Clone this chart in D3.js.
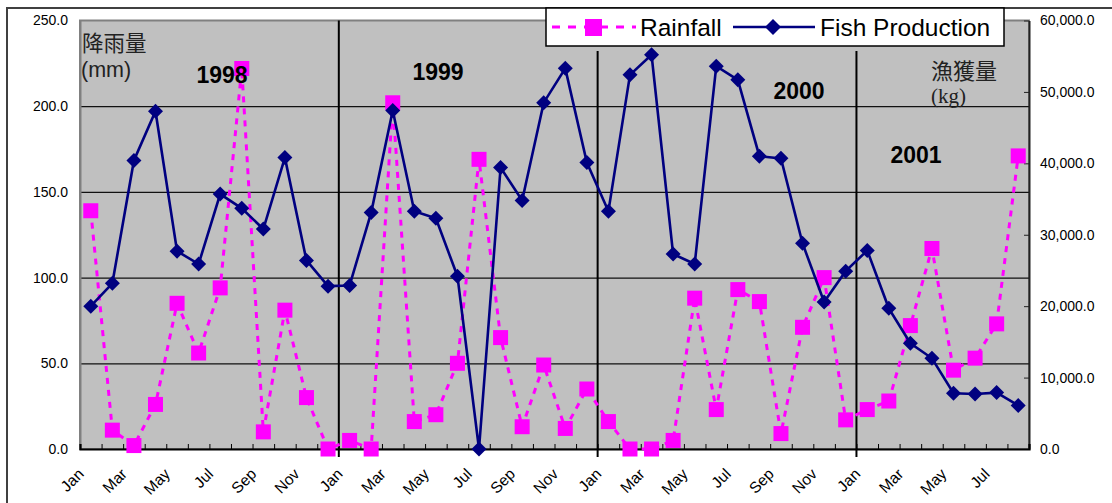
<!DOCTYPE html>
<html>
<head>
<meta charset="utf-8">
<script src="https://cdn.jsdelivr.net/npm/d3@7"></script>
<style>
  html, body { margin: 0; padding: 0; background: #fff; }
  svg { display: block; font-family: "Liberation Sans", Arial, sans-serif; }
</style>
</head>
<body>
<svg id="chart" width="1112" height="503"></svg>
<script>
// ---- data ----
const months = [
  "Jan","Feb","Mar","Apr","May","Jun","Jul","Aug","Sep","Oct","Nov","Dec",
  "Jan","Feb","Mar","Apr","May","Jun","Jul","Aug","Sep","Oct","Nov","Dec",
  "Jan","Feb","Mar","Apr","May","Jun","Jul","Aug","Sep","Oct","Nov","Dec",
  "Jan","Feb","Mar","Apr","May","Jun","Jul","Aug"
];
const rainfall = [
  139, 11, 2, 26, 85, 56, 94, 222, 10, 81, 30, 0,
  5, 0, 202, 16, 20, 50, 169, 65, 13, 49, 12, 35,
  16, 0, 0, 5, 88, 23, 93, 86, 9, 71, 100, 17,
  23, 28, 72, 117, 46, 53, 73, 171
];
const fishProduction = [
  20000, 23200, 40400, 47300, 27700, 25900, 35700, 33700, 30800, 40800, 26400, 22800,
  22900, 33100, 47400, 33300, 32300, 24200, 0, 39400, 34800, 48500, 53300, 40100,
  33300, 52400, 55200, 27300, 25900, 53600, 51700, 41000, 40700, 28800, 20600, 24900,
  27800, 19700, 14800, 12700, 7800, 7700, 7900, 6100
];
const leftTicks = [0, 50, 100, 150, 200, 250];
const rightTicks = [0, 10000, 20000, 30000, 40000, 50000, 60000];
const years = ["1998", "1999", "2000", "2001"];
const yearStartIndex = [0, 12, 24, 36];
const seriesNames = ["Rainfall", "Fish Production"];

// ---- layout ----
const svg = d3.select("#chart");
const L = 80, R = 1029, T = 20.5, B = 449;
const idx = d3.range(months.length);
const x = d3.scaleBand().domain(idx).range([L, R]).padding(0);
const cx = i => x(i) + x.bandwidth() / 2;
const yL = d3.scaleLinear().domain([0, 250]).range([B, T]);
const yR = d3.scaleLinear().domain([0, 60000]).range([B, T]);
const xb = d3.scaleLinear().domain([0, months.length]).range([L, R]);

const MAG = "#ff00ff", NAVY = "#000080";

// outer chart border
svg.append("rect").attr("x", 7).attr("y", 8).attr("width", 1200).attr("height", 600)
  .attr("fill", "#fff").attr("stroke", "#404040").attr("stroke-width", 2);

// plot area
svg.append("rect").attr("x", L).attr("y", T).attr("width", R - L).attr("height", B - T)
  .attr("fill", "#c0c0c0").attr("stroke", "#808080").attr("stroke-width", 2);

// gridlines
svg.append("g").attr("transform", `translate(${L},0)`)
  .call(d3.axisLeft(yL).tickValues([50, 100, 150, 200]).tickSize(-(R - L)).tickFormat(""))
  .call(g => g.select(".domain").remove())
  .call(g => g.selectAll("line").attr("stroke", "#111").attr("stroke-width", 1.2));

// year separators
yearStartIndex.slice(1).forEach((s, k) => {
  svg.append("line").attr("x1", xb(s)).attr("x2", xb(s))
    .attr("y1", k === 0 ? T : 51).attr("y2", B + 8)
    .attr("stroke", "#000").attr("stroke-width", 2);
});

// left axis
svg.append("g").attr("transform", `translate(${L},0)`)
  .call(d3.axisLeft(yL).tickValues(leftTicks).tickSize(0).tickPadding(12).tickFormat(d3.format(".1f")))
  .call(g => g.select(".domain").attr("stroke", "#808080").attr("stroke-width", 2))
  .call(g => g.selectAll("text").attr("font-size", 14).attr("fill", "#000")
    .attr("font-family", "'Liberation Sans', Arial, sans-serif"));

// right axis
svg.append("g").attr("transform", `translate(${R},0)`)
  .call(d3.axisRight(yR).tickValues(rightTicks).tickSizeInner(-5).tickSizeOuter(0).tickPadding(11)
    .tickFormat(d3.format(",.1f")))
  .call(g => g.select(".domain").attr("stroke", "#222").attr("stroke-width", 2))
  .call(g => g.selectAll("line").attr("stroke", "#222"))
  .call(g => g.selectAll("text").attr("font-size", 14).attr("fill", "#000")
    .attr("font-family", "'Liberation Sans', Arial, sans-serif"));

// bottom axis: ticks at category boundaries
svg.append("g").attr("transform", `translate(0,${B})`)
  .call(d3.axisBottom(xb).tickValues(d3.range(months.length + 1)).tickSize(-5).tickFormat(""))
  .call(g => g.select(".domain").attr("stroke", "#000").attr("stroke-width", 2.2))
  .call(g => g.selectAll("line").attr("stroke", "#000").attr("stroke-width", 1));

// bottom labels
svg.append("g").attr("transform", `translate(0,${B})`)
  .call(d3.axisBottom(x).tickValues(idx.filter(i => i % 2 === 0)).tickSize(0)
    .tickFormat(i => months[i]))
  .call(g => g.select(".domain").remove())
  .call(g => g.selectAll("text")
    .attr("x", 0).attr("y", 0).attr("dy", 0)
    .attr("transform", "translate(-6,26) rotate(-45)")
    .attr("text-anchor", "end").attr("font-size", 15.5).attr("fill", "#000")
    .attr("font-family", "'Liberation Sans', Arial, sans-serif"));

// rainfall series
svg.append("path").datum(rainfall)
  .attr("d", d3.line().x((d, i) => cx(i)).y(d => yL(d)))
  .attr("fill", "none").attr("stroke", MAG).attr("stroke-width", 3)
  .attr("stroke-dasharray", "6,6");
svg.append("g").selectAll("rect").data(rainfall).join("rect")
  .attr("x", (d, i) => cx(i) - 7.5).attr("y", d => yL(d) - 7.5)
  .attr("width", 15).attr("height", 15).attr("fill", MAG);

// fish series
svg.append("path").datum(fishProduction)
  .attr("d", d3.line().x((d, i) => cx(i)).y(d => yR(d)))
  .attr("fill", "none").attr("stroke", NAVY).attr("stroke-width", 2.6);
const diamond = (px, py, r) => `M${px},${py - r}L${px + r},${py}L${px},${py + r}L${px - r},${py}Z`;
svg.append("g").selectAll("path").data(fishProduction).join("path")
  .attr("d", (d, i) => diamond(cx(i), yR(d), 7.5)).attr("fill", NAVY);

// year labels
const yearPos = [[222, 83], [438, 80], [799, 99], [916, 163]];
years.forEach((y, k) => {
  svg.append("text").attr("x", yearPos[k][0]).attr("y", yearPos[k][1])
    .attr("text-anchor", "middle").attr("font-size", 23).attr("font-weight", "bold")
    .attr("fill", "#000").text(y);
});

// axis titles
svg.append("text").attr("x", 82).attr("y", 51).attr("font-size", 21.5)
  .attr("font-family", "'Noto Sans CJK JP', sans-serif").attr("fill", "#222").text("降雨量");
svg.append("text").attr("x", 81).attr("y", 77).attr("font-size", 21.5)
  .attr("fill", "#222").text("(mm)");
svg.append("text").attr("x", 931).attr("y", 79).attr("font-size", 22)
  .attr("font-family", "'Noto Sans CJK JP', sans-serif").attr("fill", "#222").text("漁獲量");
svg.append("text").attr("x", 931).attr("y", 103).attr("font-size", 21)
  .attr("font-family", "'Liberation Serif', 'Times New Roman', serif").attr("fill", "#222").text("(kg)");

// legend
const lg = svg.append("g");
lg.append("rect").attr("x", 546).attr("y", 8).attr("width", 458).attr("height", 38)
  .attr("fill", "#fff").attr("stroke", "#000").attr("stroke-width", 1.5);
lg.append("line").attr("x1", 552).attr("x2", 636).attr("y1", 27).attr("y2", 27)
  .attr("stroke", MAG).attr("stroke-width", 3).attr("stroke-dasharray", "8,8");
lg.append("rect").attr("x", 585).attr("y", 19).attr("width", 17).attr("height", 17).attr("fill", MAG);
lg.append("text").attr("x", 640).attr("y", 36).attr("font-size", 24.5).attr("fill", "#000").text(seriesNames[0]);
lg.append("line").attr("x1", 733).attr("x2", 815).attr("y1", 27).attr("y2", 27)
  .attr("stroke", NAVY).attr("stroke-width", 2.6);
lg.append("path").attr("d", diamond(773, 27, 8)).attr("fill", NAVY);
lg.append("text").attr("x", 820).attr("y", 36).attr("font-size", 24.5).attr("fill", "#000").text(seriesNames[1]);
</script>
</body>
</html>
